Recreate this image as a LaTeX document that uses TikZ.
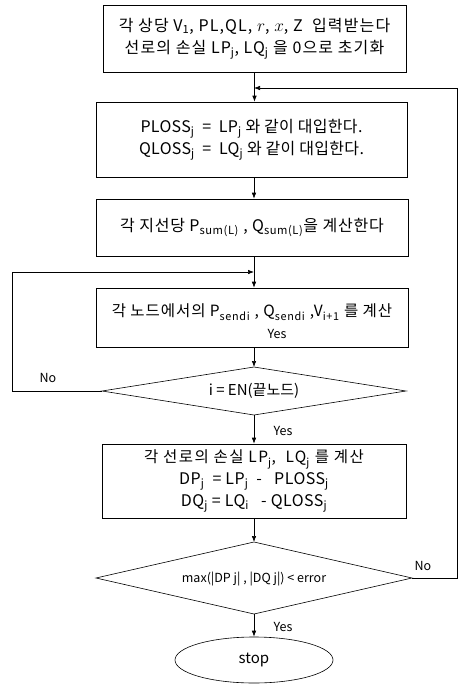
\documentclass[tikz,border=0pt]{standalone}
\usepackage{fontspec}
\setmainfont{Noto Sans CJK KR}
\usetikzlibrary{arrows.meta,shapes.geometric}
\tikzset{
  box/.style={draw, line width=0.6pt, inner sep=0pt, align=center, font=\fontsize{16}{22}\selectfont},
  dline/.style={line width=0.6pt},
  arr/.style={line width=0.6pt, -{Latex[length=6pt,width=4.5pt]}},
  lbl/.style={font=\fontsize{12.5}{14}\selectfont, inner sep=0pt},
}
\newcommand{\sbs}[1]{\textsubscript{#1}}
\newcommand{\wide}[1]{\addfontfeatures{LetterSpace=#1}}
\begin{document}
\begin{tikzpicture}[x=1pt,y=-1pt]
\useasboundingbox (0,0) rectangle (460,685);
\node[box, minimum width=303pt, minimum height=67pt] (b1) at (254.5,38.5)
  {\wide{7}각 상당 V\sbs{1}, PL,QL, $r$, $x$, Z\ \ 입력받는다\\ \wide{7}선로의 손실 LP\sbs{j}, LQ\sbs{j} 을 0으로 초기화};
\node[box, minimum width=311pt, minimum height=75pt] (b2) at (251.5,139.5)
  {\wide{2}PLOSS\sbs{j} \ = \ LP\sbs{j} 와 같이 대입한다.\\ \wide{2}QLOSS\sbs{j} \ = \ LQ\sbs{j} 와 같이 대입한다.};
\node[box, minimum width=312pt, minimum height=57pt] (b3) at (252,227.5)
  {\wide{5}각 지선당 P\sbs{sum(L)} , Q\sbs{sum(L)}을 계산한다};
\node[box, minimum width=312pt, minimum height=59pt, text depth=14pt, font=\fontsize{15.5}{20}\selectfont] (b4) at (252,317.5)
  {\wide{6}각 노드에서의 P\sbs{sendi} , Q\sbs{sendi} ,V\sbs{i+1} 를 계산};
\node[lbl] (y0) at (277,334) {Yes};
% decision 1
\node[inner sep=0pt, font=\fontsize{15}{17}\selectfont] (d1) at (254,391) {i = EN(끝노드)};
\coordinate (d1n) at (254,367);
\coordinate (d1s) at (254,415);
\coordinate (d1w) at (102,391);
\coordinate (d1e) at (406,391);
\draw[dline] (d1n) -- (d1e) -- (d1s) -- (d1w) -- cycle;
\node[box, minimum width=304pt, minimum height=74pt] (b5) at (254,481)
  {\fontsize{15.5}{20}\selectfont \wide{9}각 선로의 손실 LP\sbs{j}, \ LQ\sbs{j} 를 계산\\ \wide{3}DP\sbs{j} \ = LP\sbs{j} \ - \ \ PLOSS\sbs{j}\\ \wide{3}DQ\sbs{j} = LQ\sbs{i} \ \ - QLOSS\sbs{j}};
% decision 2
\node[inner sep=0pt, font=\fontsize{12.5}{14}\selectfont] (d2) at (254,579) {max(|DP j| , |DQ j|) < error};
\coordinate (d2n) at (254,542);
\coordinate (d2s) at (254,614);
\coordinate (d2w) at (96,578);
\coordinate (d2e) at (412,578);
\draw[dline] (d2n) -- (d2e) -- (d2s) -- (d2w) -- cycle;
\node[draw, line width=0.6pt, ellipse, minimum width=158pt, minimum height=46pt, inner sep=0pt, font=\fontsize{15}{17}\selectfont] (st) at (254,660) {stop};
\coordinate (j1) at (254,88);
\coordinate (j2) at (254,272);
\coordinate (L) at (12,272);
\coordinate (R) at (457,88);
\draw[arr] (b1.south) -- (b1.south |- b2.north);
\draw[arr] (j1 |- b2.south) -- (j1 |- b3.north);
\draw[arr] (j1 |- b3.south) -- (j1 |- b4.north);
\draw[arr] (j1 |- b4.south) -- (d1n);
\draw[arr] (d1s) -- (b5.north);
\draw[arr] (b5.south) -- (d2n);
\draw[arr] (d2s) -- (st.north);
\draw[arr] (d1w) -| (L) -- (j2);
\draw[arr] (d2e) -| (R) -- (j1);
\node[lbl] (y1) at (283,431) {Yes};
\node[lbl] (y2) at (283,627) {Yes};
\node[lbl] (n1) at (48,378) {No};
\node[lbl] (n2) at (423,566) {No};
\end{tikzpicture}
\end{document}
